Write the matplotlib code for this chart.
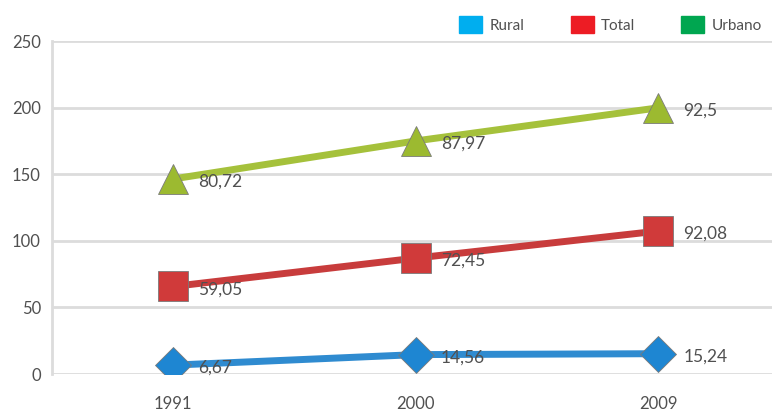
import matplotlib.pyplot as plt
import matplotlib.patches as mpatches
import numpy as np

plt.rcParams['font.family'] = ['Lato', 'DejaVu Sans']

anos = ['1991', '2000', '2009']
rural = [6.67, 14.56, 15.24]
total = [59.05, 72.45, 92.08]
urbano = [80.72, 87.97, 92.5]
rotulos_y = [0, 50, 100, 150, 200, 250]

# series are stacked: each line sits on top of the previous ones
base_total = np.array(rural)
topo_total = base_total + np.array(total)
topo_urbano = topo_total + np.array(urbano)

fig = plt.figure(figsize=(7.72, 4.19), dpi=100)
ax = fig.add_axes([52 / 772, 1 - 374 / 419, 727.5 / 772, 333 / 419])

x = np.arange(len(anos))
series = [
    (base_total, rural, '#2f8bd0', '#1e86d2', 'D', 18),
    (topo_total, total, '#c83c3c', '#d03a3a', 's', 21),
    (topo_urbano, urbano, '#a5c13b', '#9cba30', '^', 22),
]
for ys, vals, cor_linha, cor_marca, marca, tam in series:
    ax.plot(x, ys, color=cor_linha, lw=5, zorder=3, solid_capstyle='round')
    ax.plot(x, ys, ls='none', marker=marca, ms=tam, color=cor_marca,
            markeredgecolor='#7a7a7a', markeredgewidth=0.6, zorder=4)
    for xi, yi, v in zip(x, ys, vals):
        ax.annotate(f'{v:g}'.replace('.', ','), (xi, yi), xytext=(18, -2),
                    textcoords='offset points', ha='left', va='center',
                    fontsize=12.5, color='#505050', zorder=5)

ax.set_xlim(-0.5, 2.5)
ax.set_ylim(0, 250)
ax.set_yticks(rotulos_y)
ax.set_xticks(x)
ax.set_xticklabels(anos)
ax.tick_params(length=0, labelsize=12, colors='#505050')
ax.tick_params(axis='x', pad=16)
ax.tick_params(axis='y', pad=8)
ax.grid(axis='y', color='#dcdcdc', lw=2)
ax.set_axisbelow(True)
for lado in ['top', 'right', 'bottom']:
    ax.spines[lado].set_visible(False)
ax.spines['left'].set_color('#dcdcdc')
ax.spines['left'].set_linewidth(2)

itens = [('Rural', '#00aeef'), ('Total', '#ed1c24'), ('Urbano', '#00a650')]
alcas = [mpatches.Patch(color=c, label=n) for n, c in itens]
fig.legend(handles=alcas, loc='upper right', bbox_to_anchor=(1.005, 0.995), ncol=3,
           frameon=False, fontsize=11, labelcolor='#505050', handlelength=1.5,
           handleheight=1.4, columnspacing=3.0, handletextpad=0.5)

fig.savefig('out.png', dpi=100)
